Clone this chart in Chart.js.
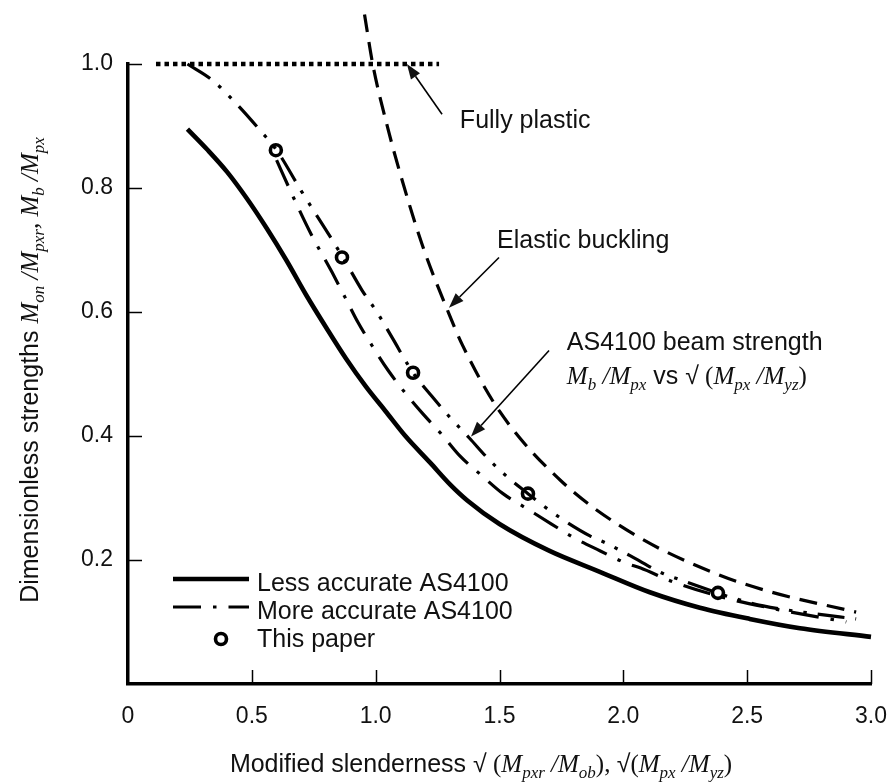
<!DOCTYPE html>
<html>
<head>
<meta charset="utf-8">
<script src="https://cdn.jsdelivr.net/npm/chart.js@4.4.1/dist/chart.umd.min.js"></script>
<style>
html,body{margin:0;padding:0;background:#fff;}
#wrap{width:896px;height:783px;position:relative;}
</style>
</head>
<body>
<div id="wrap"><canvas id="c" width="896" height="783"></canvas></div>
<script>
// ---- data ----
const xTickValues = [0, 0.5, 1.0, 1.5, 2.0, 2.5, 3.0];
const xTickLabels = ["0", "0.5", "1.0", "1.5", "2.0", "2.5", "3.0"];
const yTickValues = [0, 0.2, 0.4, 0.6, 0.8, 1.0];
const yTickLabels = ["", "0.2", "0.4", "0.6", "0.8", "1.0"];

const lessX = [0.24,0.32,0.40,0.48,0.56,0.64,0.72,0.80,0.88,0.96,1.04,1.12,1.22,1.30,1.37,1.50,1.70,1.905,2.107,2.309,2.51,2.713,3.0];
const lessY = [0.895,0.862,0.826,0.783,0.735,0.683,0.627,0.575,0.525,0.48,0.44,0.40,0.357,0.322,0.296,0.258,0.215,0.181,0.148,0.123,0.105,0.09,0.076];

const moreX = [0.60,0.662,0.74,0.824,0.876,0.929,0.985,1.05,1.118,1.19,1.268,1.34,1.429,1.514,1.61,1.71,1.80,1.905,2.01,2.07,2.2,2.4,2.6,2.9];
const moreY = [0.845,0.79,0.725,0.664,0.624,0.583,0.546,0.506,0.47,0.436,0.402,0.368,0.336,0.307,0.283,0.258,0.236,0.215,0.195,0.187,0.165,0.14,0.122,0.10];

const beamX = [0.24,0.34,0.44,0.54,0.60,0.70,0.868,0.945,1.005,1.066,1.151,1.227,1.30,1.38,1.455,1.54,1.615,1.675,1.764,1.865,1.926,2.027,2.156,2.23,2.38,2.44,2.565,2.74,2.94];
const beamY = [1.0,0.974,0.935,0.89,0.861,0.795,0.688,0.635,0.60,0.559,0.502,0.464,0.43,0.396,0.363,0.331,0.307,0.288,0.263,0.239,0.228,0.207,0.179,0.168,0.147,0.139,0.126,0.115,0.105];

const elasticX = [0.955,0.988,1.05,1.1,1.19,1.29,1.35,1.5,1.75,2.04,2.38,2.6,2.94];
const elasticY = [1.08,1.0,0.895,0.822,0.706,0.603,0.547,0.44,0.327,0.242,0.177,0.148,0.116];

const plasticX = [0.113, 1.256];
const plasticY = [1.0, 1.0];

const paperX = [0.597, 0.864, 1.151, 1.615, 2.382];
const paperY = [0.861, 0.688, 0.502, 0.307, 0.147];

const seriesNames = ["Less accurate AS4100", "More accurate AS4100", "This paper"];

// ---- helpers ----
function pts(xs, ys) { return xs.map((x, i) => ({x: x, y: ys[i]})); }

const SANS = '"Liberation Sans", Arial, sans-serif';
const SERIF = '"Liberation Serif", "Times New Roman", serif';

function segFont(s, size) {
  if (s.k === 'sans') return size + 'px ' + SANS;
  if (s.k === 'it') return 'italic ' + size + 'px ' + SERIF;
  if (s.k === 'serif') return size + 'px ' + SERIF;
  if (s.k === 'sub') return 'italic ' + Math.round(size * 0.66) + 'px ' + SERIF;
  return size + 'px ' + SANS;
}
function richWidth(ctx, segs, size) {
  let w = 0;
  segs.forEach(s => { ctx.font = segFont(s, size); w += ctx.measureText(s.t).width; });
  return w;
}
function drawRich(ctx, segs, x, y, size, align) {
  const w = richWidth(ctx, segs, size);
  let cx = align === 'center' ? x - w / 2 : x;
  ctx.textBaseline = 'alphabetic';
  ctx.textAlign = 'left';
  segs.forEach(s => {
    ctx.font = segFont(s, size);
    const dy = s.k === 'sub' ? size * 0.22 : 0;
    ctx.fillText(s.t, cx, y + dy);
    cx += ctx.measureText(s.t).width;
  });
}

const yTitle = [
  {k:'sans', t:'Dimensionless strengths '},
  {k:'it', t:'M'}, {k:'sub', t:'on'}, {k:'it', t:' /M'}, {k:'sub', t:'pxr'},
  {k:'it', t:', M'}, {k:'sub', t:'b'}, {k:'it', t:' /M'}, {k:'sub', t:'px'}
];
const xTitle = [
  {k:'sans', t:'Modified slenderness '}, {k:'sans', t:'\u221A'},
  {k:'serif', t:' ('}, {k:'it', t:'M'}, {k:'sub', t:'pxr'}, {k:'it', t:' /M'}, {k:'sub', t:'ob'},
  {k:'serif', t:'), '}, {k:'sans', t:'\u221A'}, {k:'serif', t:'('}, {k:'it', t:'M'}, {k:'sub', t:'px'},
  {k:'it', t:' /M'}, {k:'sub', t:'yz'}, {k:'serif', t:')'}
];
const beamLine2 = [
  {k:'it', t:'M'}, {k:'sub', t:'b'}, {k:'it', t:' /M'}, {k:'sub', t:'px'}, {k:'sans', t:' vs '},
  {k:'sans', t:'\u221A'}, {k:'serif', t:' ('}, {k:'it', t:'M'}, {k:'sub', t:'px'}, {k:'it', t:' /M'},
  {k:'sub', t:'yz'}, {k:'serif', t:')'}
];

// annotations: text anchors and arrows in data units
const notes = [
  {x: 1.34, y: 0.912, segs: [{k:'sans', t:'Fully plastic'}]},
  {x: 1.49, y: 0.717, segs: [{k:'sans', t:'Elastic buckling'}]},
  {x: 1.772, y: 0.553, segs: [{k:'sans', t:'AS4100 beam strength'}]},
  {x: 1.772, y: 0.498, segs: beamLine2}
];
const arrows = [
  {x1: 1.268, y1: 0.919, x2: 1.126, y2: 1.0},
  {x1: 1.498, y1: 0.688, x2: 1.296, y2: 0.607},
  {x1: 1.70, y1: 0.538, x2: 1.385, y2: 0.399}
];

const overlay = {
  id: 'overlay',
  afterDraw(chart) {
    const ctx = chart.ctx;
    const xs = chart.scales.x, ys = chart.scales.y;
    const a = chart.chartArea;
    ctx.save();
    ctx.fillStyle = '#000';
    ctx.strokeStyle = '#000';
    // inward tick marks
    ctx.lineWidth = 1.5;
    yTickValues.forEach(v => {
      if (v === 0) return;
      const py = Math.round(ys.getPixelForValue(v)) + 0.5;
      ctx.beginPath(); ctx.moveTo(a.left, py); ctx.lineTo(a.left + 14, py); ctx.stroke();
    });
    xTickValues.forEach(v => {
      if (v === 0) return;
      const px = Math.round(xs.getPixelForValue(v)) + 0.5;
      ctx.beginPath(); ctx.moveTo(px, a.bottom); ctx.lineTo(px, a.bottom - 14); ctx.stroke();
    });
    // annotations text
    ctx.fillStyle = '#111';
    notes.forEach(n => {
      drawRich(ctx, n.segs, xs.getPixelForValue(n.x), ys.getPixelForValue(n.y) + 9, 25, 'left');
    });
    // arrows
    ctx.lineWidth = 1.6;
    arrows.forEach(ar => {
      const x1 = xs.getPixelForValue(ar.x1), y1 = ys.getPixelForValue(ar.y1);
      const x2 = xs.getPixelForValue(ar.x2), y2 = ys.getPixelForValue(ar.y2);
      const ang = Math.atan2(y2 - y1, x2 - x1);
      const L = 15, W = 5.5;
      const bx = x2 - L * Math.cos(ang), by = y2 - L * Math.sin(ang);
      ctx.beginPath(); ctx.moveTo(x1, y1); ctx.lineTo(bx, by); ctx.stroke();
      ctx.beginPath();
      ctx.moveTo(x2, y2);
      ctx.lineTo(bx + W * Math.sin(ang), by - W * Math.cos(ang));
      ctx.lineTo(bx - W * Math.sin(ang), by + W * Math.cos(ang));
      ctx.closePath(); ctx.fill();
    });
    // legend
    const lx = a.left + 45, ly = a.top + 515;
    const ds = chart.data.datasets;
    seriesNames.forEach((name, i) => {
      const d = ds.find(q => q.label === name);
      const y = ly + i * 28;
      if (d.showLine) {
        ctx.save();
        ctx.lineWidth = d.borderWidth;
        ctx.strokeStyle = d.borderColor;
        ctx.setLineDash(d.borderDash || []);
        ctx.lineCap = 'butt';
        ctx.beginPath(); ctx.moveTo(lx, y); ctx.lineTo(lx + 76, y); ctx.stroke();
        ctx.restore();
      } else {
        ctx.save();
        ctx.lineWidth = d.borderWidth;
        ctx.strokeStyle = d.borderColor;
        ctx.fillStyle = '#fff';
        ctx.beginPath(); ctx.arc(lx + 48, y + 4, d.pointRadius, 0, Math.PI * 2); ctx.fill(); ctx.stroke();
        ctx.restore();
      }
      ctx.fillStyle = '#111';
      drawRich(ctx, [{k:'sans', t:name}], lx + 84, y + 12, 25, 'left');
    });
    // axis titles
    drawRich(ctx, xTitle, 481, 772, 25, 'center');
    ctx.save();
    ctx.translate(38, 370);
    ctx.rotate(-Math.PI / 2);
    drawRich(ctx, yTitle, 0, 0, 25, 'center');
    ctx.restore();
    ctx.restore();
  }
};

const lineBase = {showLine: true, pointRadius: 0, pointHoverRadius: 0, fill: false, clip: false,
  cubicInterpolationMode: 'monotone', borderColor: '#000', backgroundColor: '#000', borderCapStyle: 'butt'};

new Chart(document.getElementById('c'), {
  type: 'scatter',
  data: {
    datasets: [
      Object.assign({}, lineBase, {label: 'Fully plastic', data: pts(plasticX, plasticY), borderWidth: 4.5, borderDash: [4.5, 4], cubicInterpolationMode: 'default', tension: 0}),
      Object.assign({}, lineBase, {label: 'Elastic buckling', data: pts(elasticX, elasticY), borderWidth: 3.2, borderDash: [18, 10]}),
      Object.assign({}, lineBase, {label: 'AS4100 beam strength', data: pts(beamX, beamY), borderWidth: 3.2, borderDash: [27, 11, 3.5, 11, 3.5, 11]}),
      Object.assign({}, lineBase, {label: seriesNames[1], data: pts(moreX, moreY), borderWidth: 3.2, borderDash: [28, 12, 3.5, 12]}),
      Object.assign({}, lineBase, {label: seriesNames[0], data: pts(lessX, lessY), borderWidth: 4.6}),
      {label: seriesNames[2], data: pts(paperX, paperY), showLine: false, pointStyle: 'circle', pointRadius: 5.5, pointHoverRadius: 5.5,
        borderWidth: 3.6, borderColor: '#000', backgroundColor: '#fff', clip: false}
    ]
  },
  options: {
    responsive: false,
    animation: false,
    events: [],
    layout: {padding: {left: 0, right: 25, top: 64, bottom: 0}},
    plugins: {legend: {display: false}, tooltip: {enabled: false}},
    scales: {
      x: {
        type: 'linear', min: 0, max: 3,
        afterBuildTicks: s => { s.ticks = xTickValues.map(v => ({value: v})); },
        afterFit: s => { s.height = 99; s.paddingLeft = 0; s.paddingRight = 0; },
        grid: {display: true, drawOnChartArea: false, drawTicks: false, color: 'rgba(0,0,0,0)'},
        border: {display: true, color: '#000', width: 3.5},
        ticks: {padding: 19, color: '#111', font: {family: 'Liberation Sans', size: 23},
          callback: (v, i) => xTickLabels[i], maxRotation: 0, autoSkip: false}
      },
      y: {
        type: 'linear', min: 0, max: 1,
        afterBuildTicks: s => { s.ticks = yTickValues.map(v => ({value: v})); },
        afterFit: s => { s.width = 128; s.paddingTop = 0; s.paddingBottom = 0; },
        grid: {display: true, drawOnChartArea: false, drawTicks: false, color: 'rgba(0,0,0,0)'},
        border: {display: true, color: '#000', width: 3.5},
        ticks: {padding: 15, color: '#111', font: {family: 'Liberation Sans', size: 23},
          callback: (v, i) => yTickLabels[i], autoSkip: false}
      }
    }
  },
  plugins: [overlay]
});
</script>
</body>
</html>
